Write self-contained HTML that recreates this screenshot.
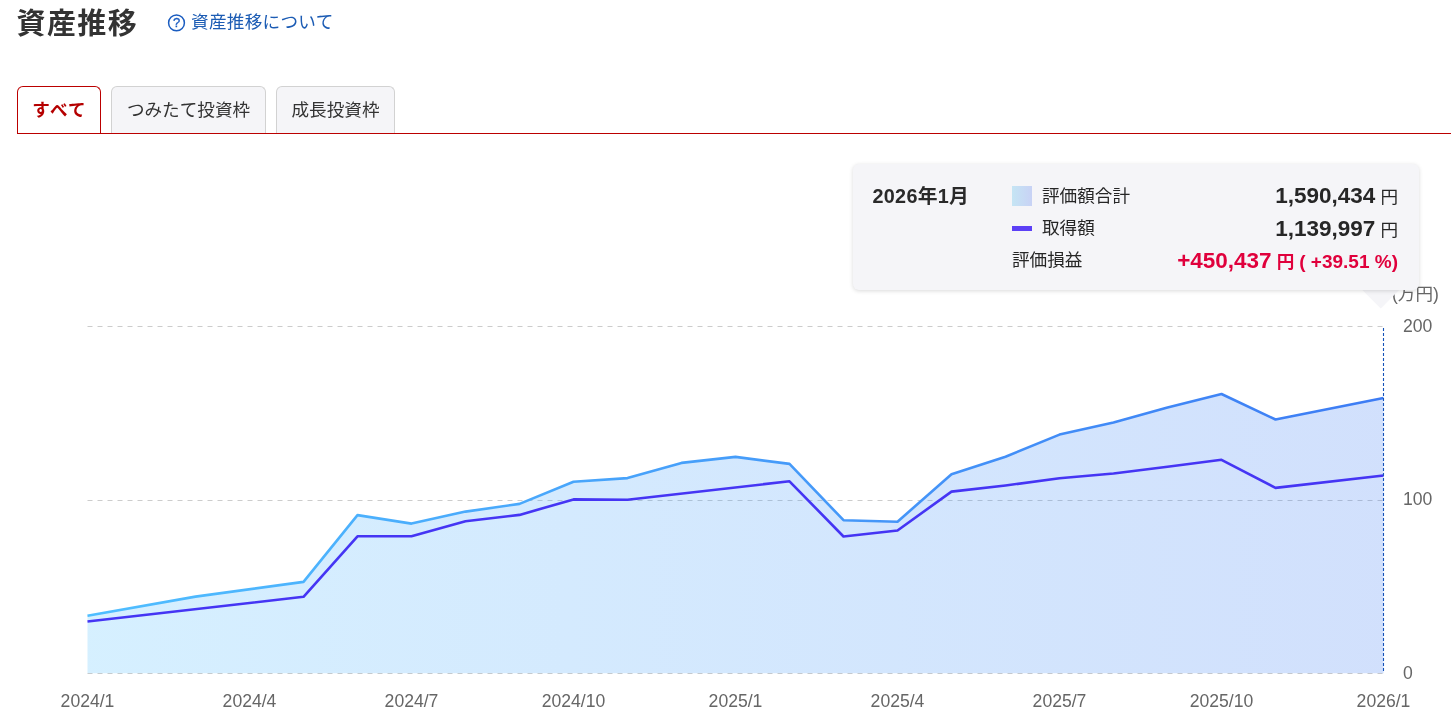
<!DOCTYPE html>
<html lang="ja"><head><meta charset="utf-8"><title>資産推移</title>
<style>
*{box-sizing:border-box;margin:0;padding:0}
html,body{width:1451px;height:723px;overflow:hidden;background:#fff}
body{position:relative;font-family:"Liberation Sans","Noto Sans CJK JP",sans-serif;color:#333}
.chart{position:absolute;left:0;top:0}
h1{position:absolute;left:16.5px;top:1.5px;font-size:29px;line-height:44px;font-weight:bold;color:#333;letter-spacing:1.4px}
.help{position:absolute;left:191px;top:10px;font-size:17.6px;line-height:24px;color:#1c5cb4;white-space:nowrap;letter-spacing:0.3px}
.qi{position:absolute;left:166px;top:12px}
.tabs{position:absolute;left:17px;top:86px;width:1434px;height:48px;border-bottom:1.2px solid #bb0000}
.tab{position:absolute;top:0;height:47px;border:1px solid #d2d2d2;border-bottom:none;border-radius:6px 6px 0 0;background:#f5f5f8;font-size:17.6px;line-height:46px;text-align:center;color:#333;white-space:nowrap}
.tab.on{background:#fff;border-color:#bb0000;color:#b50000;font-weight:bold;height:47px;letter-spacing:1.2px;text-indent:1.2px}
.tip{position:absolute;left:853px;top:164px;width:565.5px;height:126px;background:#f5f5f8;border-radius:6px;box-shadow:0 1px 4px rgba(0,0,0,0.15)}
.arrow{position:absolute;left:1367.75px;top:277.25px;width:25.5px;height:25.5px;background:#f5f5f8;transform:rotate(45deg)}
.tip .date{position:absolute;left:19.5px;top:18px;font-size:19.8px;font-weight:bold;line-height:28px;color:#2a2a2a;letter-spacing:0.3px}
.tip .lg{position:absolute;left:159px;width:20px;height:20px;background:linear-gradient(90deg,#c5e5f4,#c8d2f5)}
.tip .ln{position:absolute;left:159px;width:20px;height:5px;background:#5c40f6}
.tip .lb{position:absolute;font-size:17.6px;line-height:24px;color:#262626;white-space:nowrap}
.tip .val{position:absolute;right:20.5px;white-space:nowrap;color:#262626;font-size:22.5px;font-weight:bold;line-height:30px}
.tip .val small{font-size:17.6px;font-weight:normal;margin-left:5px}
.tip .red{color:#e0003c}
.tip .red small{font-weight:bold}
.tip .red .pct{font-size:19px;font-weight:bold;margin-left:5px}
</style></head>
<body>
<svg class="chart" width="1451" height="723" viewBox="0 0 1451 723">
<defs>
<linearGradient id="gArea" x1="87.5" y1="0" x2="1383.5" y2="0" gradientUnits="userSpaceOnUse">
<stop offset="0" stop-color="#4fbeff"/><stop offset="1" stop-color="#3d7cf4"/></linearGradient>
<linearGradient id="gUp" x1="87.5" y1="0" x2="1383.5" y2="0" gradientUnits="userSpaceOnUse">
<stop offset="0" stop-color="#4fbeff"/><stop offset="1" stop-color="#3d7cf4"/></linearGradient>
</defs>
<g stroke="#cccccc" stroke-width="1" stroke-dasharray="5,5">
<line x1="87.5" y1="326.5" x2="1383.5" y2="326.5"/>
<line x1="87.5" y1="500.5" x2="1383.5" y2="500.5"/>
<line x1="87.5" y1="673.5" x2="1383.5" y2="673.5"/>
</g>
<path d="M87.5,673.3 L87.5,615.7 195.5,596.6 303.5,581.9 357.5,515.1 411.5,523.6 465.5,511.6 519.5,503.9 573.5,481.7 627.5,478.1 681.5,462.9 735.5,456.9 789.5,463.9 843.5,520.2 897.5,521.7 951.5,474.3 1005.5,456.7 1059.5,434.6 1113.5,422.6 1167.5,407.5 1221.5,394.0 1275.5,419.5 1383.5,397.9 L1383.5,673.3 Z" fill="url(#gArea)" fill-opacity="0.235"/>
<path d="M87.5,615.7 195.5,596.6 303.5,581.9 357.5,515.1 411.5,523.6 465.5,511.6 519.5,503.9 573.5,481.7 627.5,478.1 681.5,462.9 735.5,456.9 789.5,463.9 843.5,520.2 897.5,521.7 951.5,474.3 1005.5,456.7 1059.5,434.6 1113.5,422.6 1167.5,407.5 1221.5,394.0 1275.5,419.5 1383.5,397.9" fill="none" stroke="url(#gUp)" stroke-width="2.6" stroke-linejoin="round"/>
<path d="M87.5,621.5 303.5,596.8 357.5,536.3 411.5,536.2 465.5,521.3 519.5,514.9 573.5,499.4 627.5,499.7 789.5,481.3 843.5,536.5 897.5,530.5 951.5,491.6 1005.5,485.5 1059.5,478.2 1113.5,473.5 1167.5,466.7 1221.5,459.8 1275.5,487.9 1383.5,475.5" fill="none" stroke="#4535f4" stroke-width="2.6" stroke-linejoin="round"/>
<line x1="1383.5" y1="328" x2="1383.5" y2="673" stroke="#1452b8" stroke-width="1.1" stroke-dasharray="3,2"/>
<g font-family="Liberation Sans, Arial, sans-serif" font-size="17.6" fill="#666">
<text x="1403" y="331.5">200</text>
<text x="1403" y="504.5">100</text>
<text x="1403" y="678.5">0</text>
<g text-anchor="middle">
<text x="87.5" y="707">2024/1</text>
<text x="249.5" y="707">2024/4</text>
<text x="411.5" y="707">2024/7</text>
<text x="573.5" y="707">2024/10</text>
<text x="735.5" y="707">2025/1</text>
<text x="897.5" y="707">2025/4</text>
<text x="1059.5" y="707">2025/7</text>
<text x="1221.5" y="707">2025/10</text>
<text x="1383.5" y="707">2026/1</text>
</g>
<text x="1392" y="300" font-family="Liberation Sans, Noto Sans CJK JP, sans-serif">(万円)</text>
</g>
</svg>
<h1>資産推移</h1>
<svg class="qi" width="22" height="22" viewBox="166 12 22 22"><circle cx="176.5" cy="22.9" r="7.9" fill="none" stroke="#1a5cc0" stroke-width="1.5"/><text x="176.6" y="26.9" text-anchor="middle" font-family="Liberation Sans, sans-serif" font-size="13" font-weight="normal" stroke="#1a5cc0" stroke-width="0.3" fill="#1a5cc0">?</text></svg>
<div class="help">資産推移について</div>
<div class="tabs">
<div class="tab on" style="left:0;width:84px">すべて</div>
<div class="tab" style="left:94px;width:155px">つみたて投資枠</div>
<div class="tab" style="left:259px;width:119px">成長投資枠</div>
</div>
<div class="arrow"></div>
<div class="tip">
<div class="date">2026年1月</div>
<div class="lg" style="top:22px"></div>
<div class="lb" style="left:189px;top:20px">評価額合計</div>
<div class="val" style="top:17px">1,590,434<small>円</small></div>
<div class="ln" style="top:62px"></div>
<div class="lb" style="left:189px;top:52px">取得額</div>
<div class="val" style="top:50px">1,139,997<small>円</small></div>
<div class="lb" style="left:159px;top:84px">評価損益</div>
<div class="val red" style="top:82px">+450,437<small>円</small><span class="pct">( +39.51 %)</span></div>
</div>
</body></html>
